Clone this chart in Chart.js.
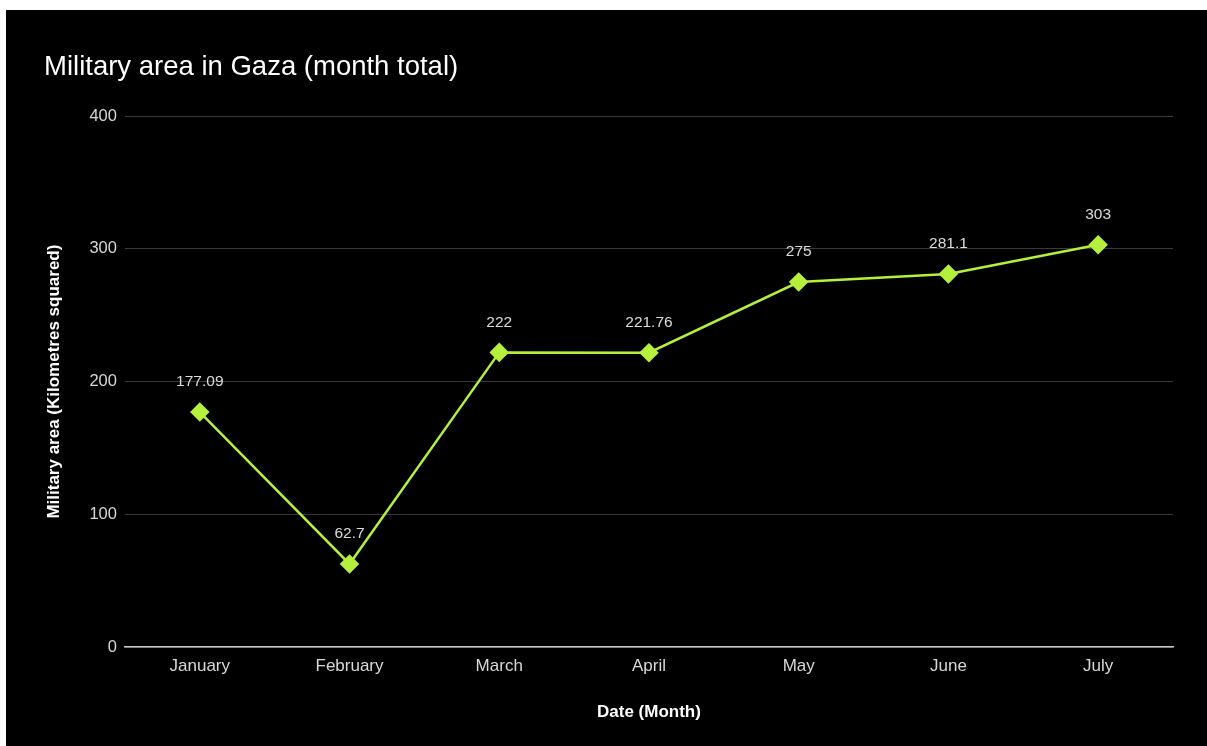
<!DOCTYPE html>
<html lang="en">
  <head>
    <meta charset="UTF-8" />
    <title>Military area in Gaza</title>
    <script src="https://cdn.jsdelivr.net/npm/chart.js"></script>
    <style>
      html, body { margin: 0; padding: 0; background: #fff; }
      #panel { position: absolute; left: 6px; top: 10px; width: 1201px; height: 736px; background: #000; }
    </style>
  </head>
  <body>
    <div id="panel">
      <canvas id="grafico" width="1201" height="736"></canvas>
    </div>

    <script>
      const months = ['January', 'February', 'March', 'April', 'May', 'June', 'July'];
      const areaLabels = ['177.09', '62.7', '222', '221.76', '275', '281.1', '303'];
      const areaValues = [177.09, 62.7, 222, 221.76, 275, 281.1, 303];

      const lime = '#b4f03c';
      const fontFamily = '"Liberation Sans", Arial, sans-serif';

      // valores escritos acima de cada ponto
      const pointLabels = {
        id: 'pointLabels',
        afterDatasetsDraw(chart) {
          const ctx = chart.ctx;
          const meta = chart.getDatasetMeta(0);
          ctx.save();
          ctx.font = '15.5px ' + fontFamily;
          ctx.fillStyle = '#dcdcdc';
          ctx.textAlign = 'center';
          ctx.textBaseline = 'middle';
          meta.data.forEach((pt, i) => {
            ctx.fillText(areaLabels[i], pt.x, pt.y - 30);
          });
          ctx.restore();
        }
      };

      const chart = new Chart(document.getElementById('grafico').getContext('2d'), {
        type: 'line',
        data: {
          labels: months,
          datasets: [{
            label: 'Military area',
            data: areaValues,
            borderColor: lime,
            backgroundColor: lime,
            borderWidth: 2.5,
            pointStyle: 'rectRot',
            pointRadius: 8,
            pointHoverRadius: 8,
            tension: 0
          }]
        },
        options: {
          responsive: false,
          animation: false,
          layout: { padding: { left: 38, right: 34, top: 0, bottom: 19 } },
          plugins: {
            legend: { display: false },
            tooltip: { enabled: false },
            title: {
              display: true,
              text: 'Military area in Gaza (month total)',
              align: 'start',
              color: '#ffffff',
              font: { family: fontFamily, size: 27.5, weight: 'normal' },
              padding: { top: 41, bottom: 32 }
            }
          },
          scales: {
            x: {
              offset: true,
              grid: { display: false, drawTicks: false },
              border: { display: true, color: '#c8c8c8', width: 1.5 },
              ticks: { color: '#d8d8d8', font: { family: fontFamily, size: 17 }, padding: 9 },
              title: {
                display: true,
                text: 'Date (Month)',
                color: '#ffffff',
                font: { family: fontFamily, size: 17, weight: 'bold' },
                padding: { top: 17, bottom: 4 }
              }
            },
            y: {
              min: 0,
              max: 400,
              ticks: { stepSize: 100, color: '#d8d8d8', font: { family: fontFamily, size: 16.5 }, padding: 8 },
              grid: { color: '#3a3a3a', lineWidth: 1, drawTicks: false },
              border: { display: false },
              title: {
                display: true,
                text: 'Military area (Kilometres squared)',
                color: '#ffffff',
                font: { family: fontFamily, size: 17, weight: 'bold' },
                padding: { top: 0, bottom: 17 }
              }
            }
          }
        },
        plugins: [pointLabels]
      });
    </script>
  </body>
</html>
